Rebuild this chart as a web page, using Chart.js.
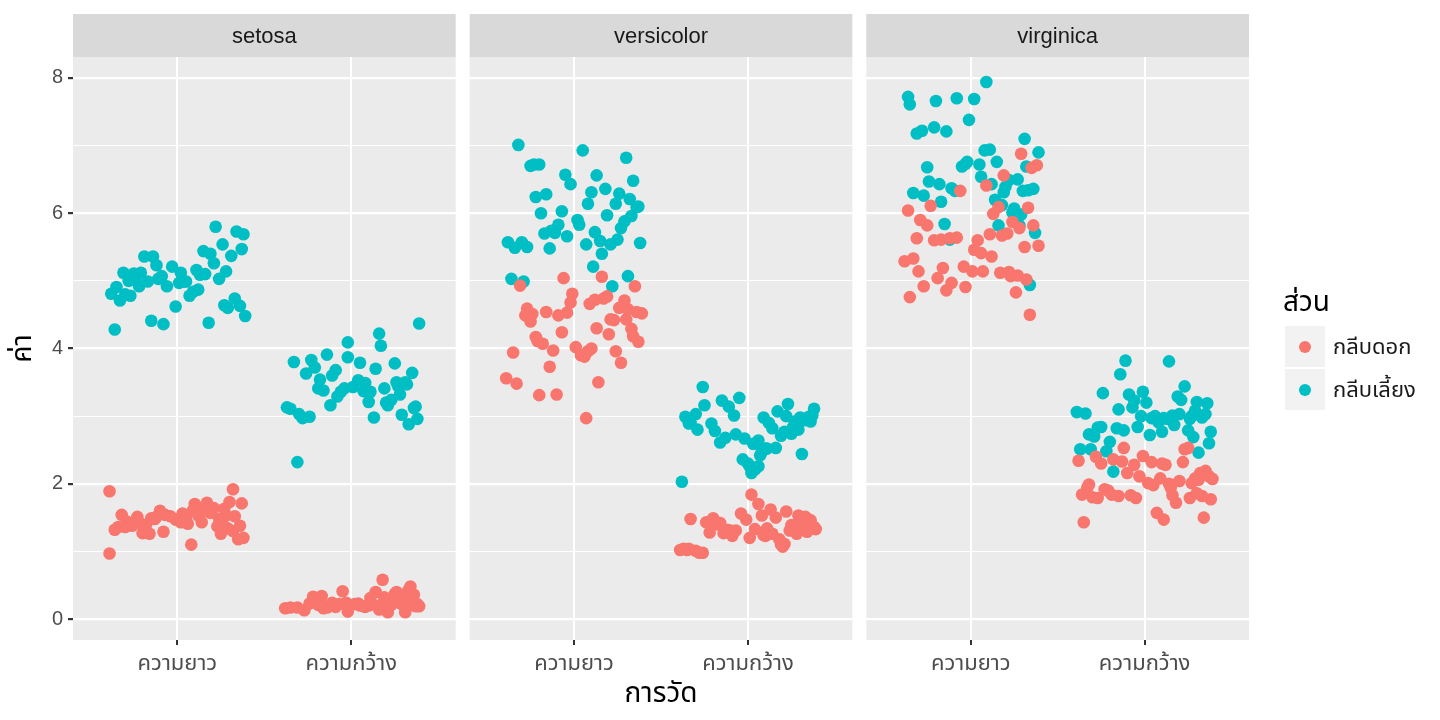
<!DOCTYPE html>
<html>
<head>
<meta charset="utf-8">
<script src="https://cdn.jsdelivr.net/npm/chart.js@4"></script>
<style>
  html, body { margin: 0; padding: 0; background: #fff; }
  #wrap { width: 1440px; height: 720px; }
</style>
</head>
<body>
<div id="wrap"><canvas id="chart" width="1440" height="720"></canvas></div>
<script>
const FONT = "'Liberation Sans', 'Noto Sans Thai', 'Noto Sans Thai UI', 'Noto Sans', 'DejaVu Sans', sans-serif";

const species = ["setosa", "versicolor", "virginica"];
const measures = ["ความยาว", "ความกว้าง"];
const parts = ["กลีบดอก", "กลีบเลี้ยง"];
const partColors = ["#F8766D", "#00BFC4"];
const yTicks = [0, 1, 2, 3, 4, 5, 6, 7, 8];

// iris values, read per panel
const setosaSepalLength = [5.1,4.9,4.7,4.6,5.0,5.4,4.6,5.0,4.4,4.9,5.4,4.8,4.8,4.3,5.8,5.7,5.4,5.1,5.7,5.1,5.4,5.1,4.6,5.1,4.8,5.0,5.0,5.2,5.2,4.7,4.8,5.4,5.2,5.5,4.9,5.0,5.5,4.9,4.4,5.1,5.0,4.5,4.4,5.0,5.1,4.8,5.1,4.6,5.3,5.0];
const setosaSepalWidth = [3.5,3.0,3.2,3.1,3.6,3.9,3.4,3.4,2.9,3.1,3.7,3.4,3.0,3.0,4.0,4.4,3.9,3.5,3.8,3.8,3.4,3.7,3.6,3.3,3.4,3.0,3.4,3.5,3.4,3.2,3.1,3.4,4.1,4.2,3.1,3.2,3.5,3.6,3.0,3.4,3.5,2.3,3.2,3.5,3.8,3.0,3.8,3.2,3.7,3.3];
const setosaPetalLength = [1.4,1.4,1.3,1.5,1.4,1.7,1.4,1.5,1.4,1.5,1.5,1.6,1.4,1.1,1.2,1.5,1.3,1.4,1.7,1.5,1.7,1.5,1.0,1.7,1.9,1.6,1.6,1.5,1.4,1.6,1.6,1.5,1.5,1.4,1.5,1.2,1.3,1.4,1.3,1.5,1.3,1.3,1.3,1.6,1.9,1.4,1.6,1.4,1.5,1.4];
const setosaPetalWidth = [0.2,0.2,0.2,0.2,0.2,0.4,0.3,0.2,0.2,0.1,0.2,0.2,0.1,0.1,0.2,0.4,0.4,0.3,0.3,0.3,0.2,0.4,0.2,0.5,0.2,0.2,0.4,0.2,0.2,0.2,0.2,0.4,0.1,0.2,0.2,0.2,0.2,0.1,0.2,0.2,0.3,0.3,0.2,0.6,0.4,0.3,0.2,0.2,0.2,0.2];

const versicolorSepalLength = [7.0,6.4,6.9,5.5,6.5,5.7,6.3,4.9,6.6,5.2,5.0,5.9,6.0,6.1,5.6,6.7,5.6,5.8,6.2,5.6,5.9,6.1,6.3,6.1,6.4,6.6,6.8,6.7,6.0,5.7,5.5,5.5,5.8,6.0,5.4,6.0,6.7,6.3,5.6,5.5,5.5,6.1,5.8,5.0,5.6,5.7,5.7,6.2,5.1,5.7];
const versicolorSepalWidth = [3.2,3.2,3.1,2.3,2.8,2.8,3.3,2.4,2.9,2.7,2.0,3.0,2.2,2.9,2.9,3.1,3.0,2.7,2.2,2.5,3.2,2.8,2.5,2.8,2.9,3.0,2.8,3.0,2.9,2.6,2.4,2.4,2.7,2.7,3.0,3.4,3.1,2.3,3.0,2.5,2.6,3.0,2.6,2.3,2.7,3.0,2.9,2.9,2.5,2.8];
const versicolorPetalLength = [4.7,4.5,4.9,4.0,4.6,4.5,4.7,3.3,4.6,3.9,3.5,4.2,4.0,4.7,3.6,4.4,4.5,4.1,4.5,3.9,4.8,4.0,4.9,4.7,4.3,4.4,4.8,5.0,4.5,3.5,3.8,3.7,3.9,5.1,4.5,4.5,4.7,4.4,4.1,4.0,4.4,4.6,4.0,3.3,4.2,4.2,4.2,4.3,3.0,4.1];
const versicolorPetalWidth = [1.4,1.5,1.5,1.3,1.5,1.3,1.6,1.0,1.3,1.4,1.0,1.5,1.0,1.4,1.3,1.4,1.5,1.0,1.5,1.1,1.8,1.3,1.5,1.2,1.3,1.4,1.4,1.7,1.5,1.0,1.1,1.0,1.2,1.6,1.5,1.6,1.5,1.3,1.3,1.3,1.2,1.4,1.2,1.0,1.3,1.2,1.3,1.3,1.1,1.3];

const virginicaSepalLength = [6.3,5.8,7.1,6.3,6.5,7.6,4.9,7.3,6.7,7.2,6.5,6.4,6.8,5.7,5.8,6.4,6.5,7.7,7.7,6.0,6.9,5.6,7.7,6.3,6.7,7.2,6.2,6.1,6.4,7.2,7.4,7.9,6.4,6.3,6.1,7.7,6.3,6.4,6.0,6.9,6.7,6.9,5.8,6.8,6.7,6.7,6.3,6.5,6.2,5.9];
const virginicaSepalWidth = [3.3,2.7,3.0,2.9,3.0,3.0,2.5,2.9,2.5,3.6,3.2,2.7,3.0,2.5,2.8,3.2,3.0,3.8,2.6,2.2,3.2,2.8,2.8,2.7,3.3,3.2,2.8,3.0,2.8,3.0,2.8,3.8,2.8,2.8,2.6,3.0,3.4,3.1,3.0,3.1,3.1,3.1,2.7,3.2,3.3,3.0,2.5,3.0,3.4,3.0];
const virginicaPetalLength = [6.0,5.1,5.9,5.6,5.8,6.6,4.5,6.3,5.8,6.1,5.1,5.3,5.5,5.0,5.1,5.3,5.5,6.7,6.9,5.0,5.7,4.9,6.7,4.9,5.7,6.0,4.8,4.9,5.6,5.8,6.1,6.4,5.6,5.1,5.6,6.1,5.6,5.5,4.8,5.4,5.6,5.1,5.1,5.9,5.7,5.2,5.0,5.2,5.4,5.1];
const virginicaPetalWidth = [2.5,1.9,2.1,1.8,2.2,2.1,1.7,1.8,1.8,2.5,2.0,1.9,2.1,2.0,2.4,2.3,1.8,2.2,2.3,1.5,2.3,2.0,2.0,1.8,2.1,1.8,1.8,1.8,2.1,1.6,1.9,2.0,2.2,1.5,1.4,2.3,2.4,1.8,1.8,2.1,2.4,2.3,1.9,2.3,2.5,2.3,1.9,2.0,2.3,1.8];

// horizontal jitter of each point (category units)
const jSetosaSepalLength = [-0.21,0.12,-0.33,0.27,0.05,-0.14,0.36,-0.28,0.18,-0.06,0.31,-0.38,0.09,-0.36,0.22,0.34,-0.19,0.02,0.38,-0.25,0.15,-0.09,0.29,-0.31,0.07,0.24,-0.17,0.11,-0.03,0.33,-0.27,0.19,-0.12,0.37,-0.22,0.04,0.26,-0.35,-0.08,0.16,-0.24,0.39,-0.15,0.01,0.28,-0.30,0.13,-0.01,0.21,-0.11];
const jSetosaSepalWidth = [0.08,-0.30,0.21,0.36,-0.11,-0.02,0.27,-0.19,0.33,-0.37,0.14,-0.06,0.29,-0.24,0.17,0.39,-0.14,0.04,0.25,-0.33,0.11,-0.21,0.35,-0.08,0.19,-0.28,0.01,0.31,-0.16,0.23,-0.35,0.07,-0.02,0.16,0.37,-0.12,0.26,-0.26,0.13,-0.04,0.32,-0.31,0.20,-0.18,0.05,0.38,-0.23,0.10,-0.09,0.28];
const jSetosaPetalLength = [0.14,-0.26,0.32,-0.07,0.23,0.37,-0.18,0.05,-0.34,0.28,-0.12,0.19,-0.29,0.08,0.35,-0.04,0.25,-0.21,0.30,-0.15,0.10,-0.32,-0.39,0.17,-0.39,0.03,0.27,-0.23,0.36,-0.10,0.21,-0.01,0.33,-0.28,0.12,0.38,-0.16,0.06,-0.36,0.24,-0.08,0.29,-0.20,0.15,0.32,-0.30,0.09,0.02,-0.13,0.26];
const jSetosaPetalWidth = [-0.35,0.17,0.28,-0.09,0.05,0.33,-0.21,0.12,0.39,-0.02,0.24,-0.14,0.31,-0.27,0.08,-0.05,0.36,0.19,-0.17,0.27,-0.31,0.14,0.02,0.34,-0.11,0.22,0.30,-0.24,0.10,0.37,-0.07,0.25,0.16,-0.19,0.32,0.04,-0.38,0.21,0.29,-0.13,0.11,0.35,-0.03,0.18,0.26,-0.22,0.07,0.38,-0.16,0.23];

const jVersicolorSepalLength = [-0.32,0.18,0.05,-0.27,0.34,-0.13,0.26,0.22,-0.05,0.11,-0.36,0.29,-0.19,0.08,0.38,-0.23,0.15,-0.09,0.32,-0.30,0.02,0.24,-0.16,0.36,-0.02,0.13,0.30,-0.25,0.19,-0.11,0.07,-0.34,0.27,-0.07,0.16,0.33,-0.20,0.10,-0.38,0.21,-0.14,0.37,0.03,-0.29,0.25,-0.04,0.12,-0.22,0.31,-0.17];
const jVersicolorSepalWidth = [0.23,-0.15,0.38,0.06,-0.29,0.14,-0.05,0.31,-0.21,0.19,-0.38,0.09,0.02,-0.33,0.27,-0.11,0.35,-0.02,0.04,0.16,-0.25,0.29,0.10,-0.19,0.33,-0.08,0.21,-0.30,0.12,0.03,0.07,-0.03,0.25,-0.13,0.37,-0.26,0.17,0.00,-0.36,0.11,0.06,0.30,-0.16,0.01,-0.07,0.22,-0.34,0.36,0.08,0.26];
const jVersicolorPetalLength = [0.17,-0.28,0.35,-0.12,0.26,-0.04,0.09,-0.20,0.31,-0.35,0.14,-0.22,0.01,0.29,-0.39,0.21,-0.09,0.37,-0.16,0.06,-0.01,0.24,-0.31,0.12,0.33,-0.25,0.19,-0.06,0.39,-0.33,0.27,-0.14,0.04,0.16,-0.24,0.36,-0.02,0.23,-0.18,0.10,0.30,-0.27,0.08,-0.10,0.20,0.34,-0.07,0.13,0.07,-0.21];
const jVersicolorPetalWidth = [-0.18,0.29,-0.33,0.11,0.36,-0.07,0.22,-0.39,0.04,0.31,-0.26,0.16,-0.34,0.25,-0.12,0.38,0.08,-0.30,-0.01,0.19,0.02,-0.22,0.33,-0.09,0.14,0.27,-0.16,0.06,0.35,-0.37,0.21,-0.28,0.10,-0.04,0.30,0.13,-0.20,0.37,-0.14,0.24,0.01,-0.24,0.18,-0.35,0.28,0.09,0.34,-0.10,0.20,0.39];

const jVirginicaSepalLength = [-0.27,0.16,0.31,-0.09,0.22,-0.35,0.34,-0.21,0.05,-0.31,0.27,0.12,-0.02,0.37,-0.15,0.20,-0.24,-0.36,-0.08,0.29,0.08,-0.12,-0.20,0.33,-0.05,-0.28,0.14,0.25,-0.18,-0.14,-0.01,0.09,0.36,-0.33,0.18,0.02,0.30,-0.11,0.24,0.11,-0.25,0.39,0.28,0.15,-0.03,0.32,0.19,0.06,-0.17,0.26];
const jVirginicaSepalWidth = [-0.09,0.28,-0.34,0.17,-0.02,0.35,-0.22,0.08,0.31,-0.14,0.21,-0.29,0.04,-0.37,0.25,-0.06,0.13,-0.11,0.37,-0.18,0.30,-0.25,0.10,-0.32,0.19,0.01,-0.16,0.26,-0.04,0.33,-0.27,0.14,-0.12,0.38,-0.20,0.06,0.23,-0.39,0.16,-0.07,0.29,-0.15,0.03,0.36,-0.24,0.11,-0.31,0.20,-0.01,0.27];
const jVirginicaPetalLength = [0.13,-0.30,0.24,-0.17,0.36,0.19,0.34,-0.06,0.28,-0.23,0.07,-0.38,0.31,-0.11,0.17,-0.33,0.02,0.38,0.29,-0.19,0.21,-0.27,0.35,-0.03,0.11,-0.36,0.26,-0.14,0.04,-0.25,0.33,0.09,-0.08,0.23,-0.31,0.16,-0.21,0.39,-0.35,0.06,-0.12,0.27,0.01,-0.29,0.18,-0.04,0.32,-0.16,0.12,0.22];
const jVirginicaPetalWidth = [0.25,-0.21,0.09,-0.36,0.32,-0.03,0.18,-0.27,0.38,-0.12,0.14,-0.33,0.29,0.02,-0.18,0.22,-0.08,0.35,-0.25,0.11,-0.38,0.27,0.05,-0.15,0.31,-0.30,0.16,-0.05,0.37,0.07,-0.23,0.20,-0.10,0.34,-0.35,0.12,-0.01,0.26,-0.19,0.39,-0.28,0.04,0.30,-0.13,0.23,-0.06,0.15,-0.32,0.10,0.33];

// vertical jitter of each point, in hundredths of a unit
const ySetosaSepalLength = [2,-3,1,4,-1,-4,3,0,-2,2,-3,1,4,-2,0,3,-4,2,-1,1,4,-3,0,2,-2,3,-1,-4,1,4,-2,0,3,-3,2,-1,4,1,-4,0,3,-2,1,-3,4,0,-1,2,-4,3];
const ySetosaSepalWidth = [-1,3,-4,2,0,-3,4,1,-2,3,0,-4,2,-1,4,-3,1,3,-2,0,-4,2,4,-1,1,-3,3,0,-2,4,1,-3,-1,2,4,-4,0,3,-2,1,-3,2,0,4,-1,-4,3,1,-2,2];
const ySetosaPetalLength = [3,-2,0,4,-3,1,-1,2,-4,3,1,-3,4,0,-2,2,-4,1,3,-1,0,4,-3,2,-1,-4,3,1,-2,0,4,-3,2,-1,3,0,-4,1,2,-2,-1,4,-3,0,2,-4,1,3,-2,0];
const ySetosaPetalWidth = [-3,1,4,-2,0,3,-4,2,-1,1,4,-3,0,3,-2,1,-4,2,4,-1,-3,0,2,-2,4,1,-4,3,0,-1,2,-3,4,1,-2,3,-4,0,2,-1,1,-3,4,-2,0,3,-1,2,-4,1];
const yVersicolorSepalLength = [1,-4,3,0,-2,4,-1,2,-3,1,3,-2,0,4,-4,2,-1,3,1,-3,0,4,-2,-1,3,-4,2,0,-3,1,4,-1,-2,3,0,-4,2,1,-3,4,-2,0,3,-1,1,-4,2,4,-3,0];
const yVersicolorSepalWidth = [-2,3,1,-4,0,2,-3,4,-1,1,3,-2,-4,0,2,4,-1,-3,1,3,-4,0,2,-2,4,1,-3,3,0,-1,2,-4,4,-2,1,3,-3,0,-1,2,4,-2,1,-4,3,0,-1,2,-3,4];
const yVersicolorPetalLength = [4,-1,2,-3,0,3,-4,1,-2,4,0,-3,2,1,-4,3,-1,0,4,-2,1,-4,3,2,-1,0,-3,4,2,-2,-1,3,0,-4,1,4,-2,2,-3,0,3,-1,-4,2,1,-2,4,0,-3,1];
const yVersicolorPetalWidth = [0,3,-2,4,-4,1,-1,2,3,-3,-2,0,4,-1,2,-4,3,1,-3,0,4,-2,1,3,-4,-1,2,0,-3,4,1,-2,3,-4,0,2,-1,4,-3,1,0,3,-2,2,-4,4,-1,1,-3,3];
const yVirginicaSepalLength = [-4,2,0,3,-1,1,4,-3,2,-2,0,3,-4,1,4,-1,-3,2,0,-2,3,1,-4,4,-1,2,0,-3,3,1,-2,4,-4,0,2,-1,3,-3,1,4,-2,0,2,-4,3,-1,1,4,-3,0];
const yVirginicaSepalWidth = [2,-1,4,-3,0,3,-2,1,-4,2,4,0,-3,1,-1,3,-4,2,0,-2,1,4,-3,3,-1,0,2,-4,4,-2,3,1,-1,-3,2,0,4,-4,1,3,-2,0,2,-1,4,-3,1,3,-4,0];
const yVirginicaPetalLength = [-1,4,-3,1,2,-4,0,3,-2,1,4,-1,0,-3,2,3,-4,1,-2,4,0,2,-3,1,-1,4,3,-4,0,2,-2,1,4,-3,3,-1,0,2,-4,1,3,-2,4,0,-3,1,2,-1,-4,3];
const yVirginicaPetalWidth = [3,0,-2,4,-4,1,2,-1,-3,3,0,4,-2,1,-4,2,3,-1,0,-3,4,1,-2,2,-4,0,3,-1,1,-3,2,4,-4,0,3,-2,1,-1,4,-3,0,2,-4,3,1,-2,4,-1,0,2];

// groups: [panel, measure, values, x jitter, y jitter]
const petalGroups = [
  [0, 0, setosaPetalLength, jSetosaPetalLength, ySetosaPetalLength],
  [0, 1, setosaPetalWidth, jSetosaPetalWidth, ySetosaPetalWidth],
  [1, 0, versicolorPetalLength, jVersicolorPetalLength, yVersicolorPetalLength],
  [1, 1, versicolorPetalWidth, jVersicolorPetalWidth, yVersicolorPetalWidth],
  [2, 0, virginicaPetalLength, jVirginicaPetalLength, yVirginicaPetalLength],
  [2, 1, virginicaPetalWidth, jVirginicaPetalWidth, yVirginicaPetalWidth]
];
const sepalGroups = [
  [0, 0, setosaSepalLength, jSetosaSepalLength, ySetosaSepalLength],
  [0, 1, setosaSepalWidth, jSetosaSepalWidth, ySetosaSepalWidth],
  [1, 0, versicolorSepalLength, jVersicolorSepalLength, yVersicolorSepalLength],
  [1, 1, versicolorSepalWidth, jVersicolorSepalWidth, yVersicolorSepalWidth],
  [2, 0, virginicaSepalLength, jVirginicaSepalLength, yVirginicaSepalLength],
  [2, 1, virginicaSepalWidth, jVirginicaSepalWidth, yVirginicaSepalWidth]
];

// facet geometry in x units: each panel spans 0.4..2.6 of a discrete scale
const PANEL_W = 2.2;
const GAP = 0.0805;
const panelStart = p => p * (PANEL_W + GAP);
const catX = (p, m) => panelStart(p) + 0.6 + m;

function toPoints(groups) {
  const pts = [];
  groups.forEach(([p, m, vals, jx, jy]) => {
    vals.forEach((v, i) => pts.push({ x: catX(p, m) + jx[i], y: v + (jy[i] || 0) / 100 }));
  });
  return pts;
}

const xTickVals = [];
const xTickLabels = [];
species.forEach((s, p) => measures.forEach((m, mi) => {
  xTickVals.push(catX(p, mi));
  xTickLabels.push(m);
}));

const facetPlugin = {
  id: 'facets',
  beforeDraw(chart) {
    const { ctx, chartArea, scales } = chart;
    ctx.save();
    ctx.fillStyle = '#FFFFFF';
    ctx.fillRect(0, 0, chart.width, chart.height);
    species.forEach((s, p) => {
      const l = scales.x.getPixelForValue(panelStart(p));
      const r = scales.x.getPixelForValue(panelStart(p) + PANEL_W);
      ctx.fillStyle = '#EBEBEB';
      ctx.fillRect(l, chartArea.top, r - l, chartArea.bottom - chartArea.top);
      ctx.fillStyle = '#D9D9D9';
      ctx.fillRect(l, 14, r - l, chartArea.top - 14);
      ctx.fillStyle = '#1A1A1A';
      ctx.font = '22px ' + FONT;
      ctx.textAlign = 'center';
      ctx.textBaseline = 'middle';
      ctx.fillText(s, (l + r) / 2, (14 + chartArea.top) / 2 + 1);
    });
    ctx.restore();
  },
  afterDraw(chart) {
    const { ctx } = chart;
    ctx.save();
    ctx.fillStyle = '#000000';
    ctx.font = '28px ' + FONT;
    ctx.textBaseline = 'middle';
    ctx.textAlign = 'left';
    ctx.fillText('ส่วน', 1283, 303);
    parts.forEach((name, i) => {
      const top = 326 + i * 43;
      ctx.fillStyle = '#F2F2F2';
      ctx.fillRect(1285, top, 40, 41);
      ctx.fillStyle = partColors[i];
      ctx.beginPath();
      ctx.arc(1305, top + 21, 6, 0, Math.PI * 2);
      ctx.fill();
      ctx.fillStyle = '#1A1A1A';
      ctx.font = '22px ' + FONT;
      ctx.fillText(name, 1333, top + 22);
    });
    ctx.restore();
  }
};

new Chart(document.getElementById('chart'), {
  type: 'scatter',
  data: {
    datasets: [
      { label: parts[0], data: toPoints(petalGroups), backgroundColor: partColors[0], borderWidth: 0, pointRadius: 6.3, pointHoverRadius: 6.3 },
      { label: parts[1], data: toPoints(sepalGroups), backgroundColor: partColors[1], borderWidth: 0, pointRadius: 6.3, pointHoverRadius: 6.3 }
    ]
  },
  options: {
    responsive: false,
    animation: false,
    events: [],
    layout: { padding: { top: 57, right: 191, left: 0, bottom: 0 } },
    plugins: { legend: { display: false }, tooltip: { enabled: false } },
    scales: {
      x: {
        type: 'linear',
        min: 0,
        max: 3 * PANEL_W + 2 * GAP,
        afterBuildTicks: axis => { axis.ticks = xTickVals.map(v => ({ value: v })); },
        afterFit: axis => { axis.height = 80; },
        border: { display: false },
        grid: { color: '#FFFFFF', lineWidth: 2, tickColor: '#333333', tickLength: 5, drawOnChartArea: true },
        ticks: {
          autoSkip: false,
          maxRotation: 0,
          padding: 6,
          color: '#4D4D4D',
          font: { family: FONT, size: 22 },
          callback: (v, i) => xTickLabels[i]
        },
        title: { display: true, text: 'การวัด', color: '#000000', font: { family: FONT, size: 28 }, padding: { top: 0, bottom: 9 } }
      },
      y: {
        min: -0.31,
        max: 8.31,
        afterBuildTicks: axis => { axis.ticks = yTicks.map(v => ({ value: v })); },
        afterFit: axis => { axis.width = 73; },
        border: { display: false },
        grid: {
          color: '#FFFFFF',
          lineWidth: c => (c.tick && c.tick.value % 2 === 0 ? 2.2 : 1),
          tickColor: c => (c.tick && c.tick.value % 2 === 0 ? '#333333' : 'rgba(0,0,0,0)'),
          tickLength: 5
        },
        ticks: {
          padding: 5,
          color: '#4D4D4D',
          font: { family: FONT, size: 20 },
          callback: v => (v % 2 === 0 ? String(v) : '')
        },
        title: { display: true, text: 'ค่า', color: '#000000', font: { family: FONT, size: 28 }, padding: { top: 6, bottom: 0 } }
      }
    }
  },
  plugins: [facetPlugin]
});
</script>
</body>
</html>
